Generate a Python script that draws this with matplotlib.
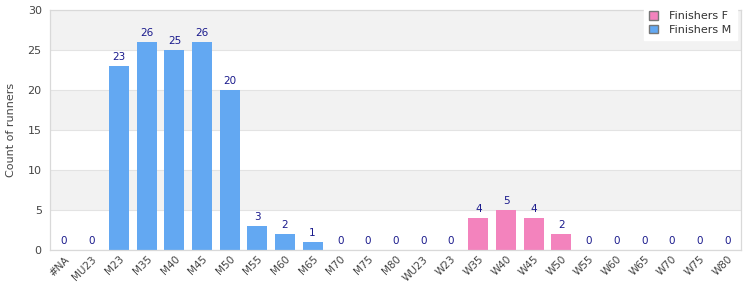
import numpy as np
import matplotlib.pyplot as plt
from matplotlib.patches import Patch

categories = ["#NA", "MU23", "M23", "M35", "M40", "M45", "M50", "M55", "M60", "M65",
              "M70", "M75", "M80", "WU23", "W23", "W35", "W40", "W45", "W50", "W55",
              "W60", "W65", "W70", "W75", "W80"]
finishers_m = [0, 0, 23, 26, 25, 26, 20, 3, 2, 1, 0, 0, 0,
               0, 0, 0, 0, 0, 0, 0, 0, 0, 0, 0, 0]
finishers_f = [0, 0, 0, 0, 0, 0, 0, 0, 0, 0, 0, 0, 0,
               0, 0, 4, 5, 4, 2, 0, 0, 0, 0, 0, 0]

col_m = "#63a8f2"
col_f = "#f383bd"

plt.rcParams["font.family"] = "DejaVu Sans"
fig = plt.figure(figsize=(7.5, 3), dpi=100)
ax = fig.add_axes([0.0667, 0.1667, 0.9213, 0.80])

x = np.arange(len(categories))
m = np.array(finishers_m)
f = np.array(finishers_f)

for lo in range(0, 30, 5):
    if (lo // 5) % 2 == 1:
        ax.axhspan(lo, lo + 5, color="#f2f2f2", zorder=0, lw=0)
    ax.axhline(lo, color="#e3e3e3", lw=0.8, zorder=0.5)

ax.bar(x, m, width=0.72, color=col_m, zorder=2)
ax.bar(x, f, width=0.72, bottom=m, color=col_f, zorder=2)

total = m + f
for xi, t in zip(x, total):
    ax.text(xi, t + 0.5, str(t), ha="center", va="bottom", fontsize=7.5, color="#1a1a8c", zorder=3)

ax.set_xlim(-0.5, len(categories) - 0.5)
ax.set_ylim(0, 30)
ax.set_yticks(range(0, 31, 5))
ax.set_xticks(x)
ax.set_xticklabels(categories, rotation=45, ha="right", rotation_mode="anchor", fontsize=7.5, color="#444444")
ax.tick_params(axis="y", labelsize=8, colors="#444444", length=0, pad=6)
ax.tick_params(axis="x", length=0, pad=3)
ax.set_ylabel("Count of runners", fontsize=8, color="#444444", labelpad=8)
for s in ax.spines.values():
    s.set_color("#d9d9d9")
    s.set_linewidth(0.9)

handles = [Patch(facecolor=col_f, edgecolor="#777777", label="Finishers F"),
           Patch(facecolor=col_m, edgecolor="#777777", label="Finishers M")]
leg = fig.legend(handles=handles, loc="upper right", bbox_to_anchor=(0.99, 1.0), fontsize=8,
                 frameon=True, fancybox=False, handlelength=0.8, handleheight=0.8,
                 borderpad=0.5, labelspacing=0.3, handletextpad=1.0)
leg.get_frame().set_edgecolor("white")
leg.get_frame().set_facecolor("white")
leg.get_frame().set_alpha(1)
for t in leg.get_texts():
    t.set_color("#333333")

fig.savefig("out.png", dpi=100)
